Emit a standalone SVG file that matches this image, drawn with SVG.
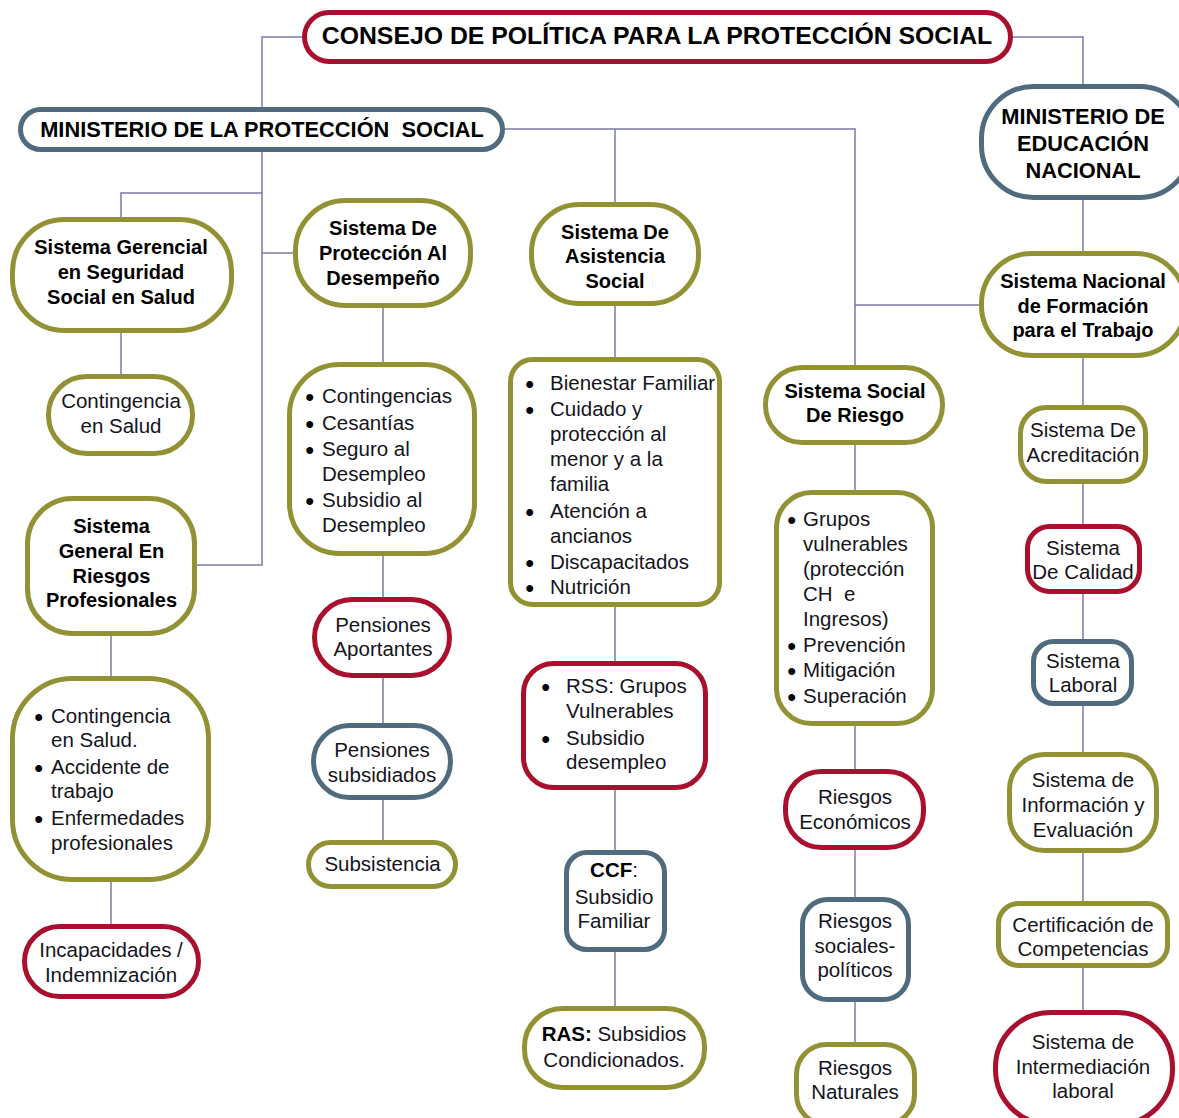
<svg xmlns="http://www.w3.org/2000/svg" width="1179" height="1118" viewBox="0 0 1179 1118">
  <style>
    .box { fill: #ffffff; stroke-width: 5; }
    .red { stroke: #a8102e; }
    .olv { stroke: #929235; }
    .blu { stroke: #4f6b7d; }
    .wire { fill: none; stroke: #7a7aa8; stroke-width: 1.5; }
    text { font-family: "Liberation Sans", Arial, sans-serif; fill: #141420; white-space: pre; }
    .h1 { font-size: 24.8px; font-weight: bold; fill: #000; text-anchor: middle; }
    .h2 { font-size: 21.8px; font-weight: bold; fill: #000; text-anchor: middle; }
    .b { font-size: 20px; font-weight: bold; fill: #000; text-anchor: middle; }
    .t { font-size: 20.5px; text-anchor: middle; }
    .l { font-size: 20.5px; }
    .dot { font-size: 24px; font-weight: bold; fill: #000; }
  </style>

  <!-- connectors -->
  <g id="connectors" class="wire">
    <path d="M302 37 H262 V107"/>
    <path d="M1013 37 H1083 V84"/>
    <path d="M262 152 V565 H197"/>
    <path d="M262 193 H121 V217"/>
    <path d="M262 253 H293"/>
    <path d="M121 333 V374"/>
    <path d="M111 636 V676"/>
    <path d="M111 882 V924"/>
    <path d="M505 129 H855 V365"/>
    <path d="M615 129 V202"/>
    <path d="M855 305 H979"/>
    <path d="M1083 200 V251"/>
    <path d="M1083 358 V405"/>
    <path d="M1083 484 V524"/>
    <path d="M1083 594 V639"/>
    <path d="M1083 706 V752"/>
    <path d="M1083 853 V901"/>
    <path d="M1083 968 V1010"/>
    <path d="M383 308 V362"/>
    <path d="M383 556 V597"/>
    <path d="M383 678 V723"/>
    <path d="M383 800 V840"/>
    <path d="M615 306 V357"/>
    <path d="M615 607 V661"/>
    <path d="M615 790 V850"/>
    <path d="M615 952 V1006"/>
    <path d="M855 445 V490"/>
    <path d="M855 726 V769"/>
    <path d="M855 850 V897"/>
    <path d="M855 1002 V1042"/>
  </g>

  <!-- top level -->
  <g id="consejo">
    <rect class="box red" x="304.5" y="12.5" width="706" height="49" rx="24.5"/>
    <text class="h1" x="657" y="44">CONSEJO DE POLÍTICA PARA LA PROTECCIÓN SOCIAL</text>
  </g>
  <g id="ministerio-proteccion">
    <rect class="box blu" x="20.5" y="109.5" width="482" height="40" rx="20"/>
    <text class="h2" x="262" y="137">MINISTERIO DE LA PROTECCIÓN  SOCIAL</text>
  </g>
  <g id="ministerio-educacion">
    <rect class="box blu" x="981.5" y="86.5" width="210" height="111" rx="52"/>
    <text class="h2" x="1083" y="124">MINISTERIO DE</text>
    <text class="h2" x="1083" y="151">EDUCACIÓN</text>
    <text class="h2" x="1083" y="178">NACIONAL</text>
  </g>

  <!-- Sistema Gerencial branch -->
  <g id="sistema-gerencial">
    <rect class="box olv" x="12.5" y="219.5" width="219" height="111" rx="52"/>
    <text class="b" x="121" y="254">Sistema Gerencial</text>
    <text class="b" x="121" y="279">en Seguridad</text>
    <text class="b" x="121" y="304">Social en Salud</text>
  </g>
  <g id="contingencia-salud">
    <rect class="box olv" x="48.5" y="376.5" width="144" height="77" rx="38"/>
    <text class="t" x="121" y="408">Contingencia</text>
    <text class="t" x="121" y="433">en Salud</text>
  </g>

  <!-- Riesgos Profesionales branch -->
  <g id="sistema-riesgos-profesionales">
    <rect class="box olv" x="27.5" y="498.5" width="167" height="135" rx="45"/>
    <text class="b" x="111.5" y="533">Sistema</text>
    <text class="b" x="111.5" y="558">General En</text>
    <text class="b" x="111.5" y="583">Riesgos</text>
    <text class="b" x="111.5" y="607">Profesionales</text>
  </g>
  <g id="lista-riesgos-profesionales">
    <rect class="box olv" x="12.5" y="678.5" width="196" height="201" rx="60"/>
    <text class="dot" x="34.5" y="725">•</text>
    <text class="l" x="51" y="723">Contingencia</text>
    <text class="l" x="51" y="747">en Salud.</text>
    <text class="dot" x="34.5" y="776">•</text>
    <text class="l" x="51" y="774">Accidente de</text>
    <text class="l" x="51" y="798">trabajo</text>
    <text class="dot" x="34.5" y="827">•</text>
    <text class="l" x="51" y="825">Enfermedades</text>
    <text class="l" x="51" y="850">profesionales</text>
  </g>
  <g id="incapacidades">
    <rect class="box red" x="24.5" y="926.5" width="174" height="70" rx="35"/>
    <text class="t" x="111" y="957">Incapacidades /</text>
    <text class="t" x="111" y="982">Indemnización</text>
  </g>

  <!-- Protección al Desempeño branch -->
  <g id="sistema-proteccion-desempeno">
    <rect class="box olv" x="295.5" y="200.5" width="175" height="105" rx="50"/>
    <text class="b" x="383" y="235">Sistema De</text>
    <text class="b" x="383" y="260">Protección Al</text>
    <text class="b" x="383" y="285">Desempeño</text>
  </g>
  <g id="lista-desempeno">
    <rect class="box olv" x="289.5" y="364.5" width="185" height="189" rx="50"/>
    <text class="dot" x="305.5" y="405">•</text>
    <text class="l" x="322" y="403">Contingencias</text>
    <text class="dot" x="305.5" y="432">•</text>
    <text class="l" x="322" y="430">Cesantías</text>
    <text class="dot" x="305.5" y="458">•</text>
    <text class="l" x="322" y="456">Seguro al</text>
    <text class="l" x="322" y="481">Desempleo</text>
    <text class="dot" x="305.5" y="509">•</text>
    <text class="l" x="322" y="507">Subsidio al</text>
    <text class="l" x="322" y="532">Desempleo</text>
  </g>
  <g id="pensiones-aportantes">
    <rect class="box red" x="314.5" y="599.5" width="135" height="76" rx="38"/>
    <text class="t" x="383" y="632">Pensiones</text>
    <text class="t" x="383" y="656">Aportantes</text>
  </g>
  <g id="pensiones-subsidiados">
    <rect class="box blu" x="313.5" y="725.5" width="137" height="72" rx="36"/>
    <text class="t" x="382" y="757">Pensiones</text>
    <text class="t" x="382" y="782">subsidiados</text>
  </g>
  <g id="subsistencia">
    <rect class="box olv" x="308.5" y="842.5" width="147" height="44" rx="22"/>
    <text class="t" x="382.5" y="871">Subsistencia</text>
  </g>

  <!-- Asistencia Social branch -->
  <g id="sistema-asistencia-social">
    <rect class="box olv" x="531.5" y="204.5" width="167" height="99" rx="48"/>
    <text class="b" x="615" y="239">Sistema De</text>
    <text class="b" x="615" y="263">Asistencia</text>
    <text class="b" x="615" y="288">Social</text>
  </g>
  <g id="lista-asistencia">
    <rect class="box olv" x="510.5" y="359.5" width="209" height="245" rx="22"/>
    <text class="dot" x="525.5" y="392">•</text>
    <text class="l" x="550" y="390">Bienestar Familiar</text>
    <text class="dot" x="525.5" y="418">•</text>
    <text class="l" x="550" y="416">Cuidado y</text>
    <text class="l" x="550" y="441">protección al</text>
    <text class="l" x="550" y="466">menor y a la</text>
    <text class="l" x="550" y="491">familia</text>
    <text class="dot" x="525.5" y="520">•</text>
    <text class="l" x="550" y="518">Atención a</text>
    <text class="l" x="550" y="543">ancianos</text>
    <text class="dot" x="525.5" y="571">•</text>
    <text class="l" x="550" y="569">Discapacitados</text>
    <text class="dot" x="525.5" y="596">•</text>
    <text class="l" x="550" y="594">Nutrición</text>
  </g>
  <g id="rss">
    <rect class="box red" x="523.5" y="663.5" width="182" height="124" rx="30"/>
    <text class="dot" x="541.5" y="695">•</text>
    <text class="l" x="566" y="693">RSS: Grupos</text>
    <text class="l" x="566" y="718">Vulnerables</text>
    <text class="dot" x="541.5" y="747">•</text>
    <text class="l" x="566" y="745">Subsidio</text>
    <text class="l" x="566" y="769">desempleo</text>
  </g>
  <g id="ccf">
    <rect class="box blu" x="566.5" y="852.5" width="98" height="97" rx="20"/>
    <text class="t" x="614" y="877"><tspan font-weight="bold" fill="#000">CCF</tspan>:</text>
    <text class="t" x="614" y="904">Subsidio</text>
    <text class="t" x="614" y="928">Familiar</text>
  </g>
  <g id="ras">
    <rect class="box olv" x="524.5" y="1008.5" width="180" height="79" rx="38"/>
    <text class="t" x="614" y="1041"><tspan font-weight="bold" fill="#000">RAS:</tspan> Subsidios</text>
    <text class="t" x="614" y="1067">Condicionados.</text>
  </g>

  <!-- Sistema Social de Riesgo branch -->
  <g id="sistema-social-riesgo">
    <rect class="box olv" x="765.5" y="367.5" width="177" height="75" rx="37"/>
    <text class="b" x="855" y="398">Sistema Social</text>
    <text class="b" x="855" y="422">De Riesgo</text>
  </g>
  <g id="lista-riesgo">
    <rect class="box olv" x="776.5" y="492.5" width="156" height="231" rx="35"/>
    <text class="dot" x="787.5" y="528">•</text>
    <text class="l" x="803" y="526">Grupos</text>
    <text class="l" x="803" y="551">vulnerables</text>
    <text class="l" x="803" y="576">(protección</text>
    <text class="l" x="803" y="601">CH  e</text>
    <text class="l" x="803" y="626">Ingresos)</text>
    <text class="dot" x="787.5" y="654">•</text>
    <text class="l" x="803" y="652">Prevención</text>
    <text class="dot" x="787.5" y="679">•</text>
    <text class="l" x="803" y="677">Mitigación</text>
    <text class="dot" x="787.5" y="705">•</text>
    <text class="l" x="803" y="703">Superación</text>
  </g>
  <g id="riesgos-economicos">
    <rect class="box red" x="785.5" y="771.5" width="138" height="76" rx="36"/>
    <text class="t" x="855" y="804">Riesgos</text>
    <text class="t" x="855" y="829">Económicos</text>
  </g>
  <g id="riesgos-sociales">
    <rect class="box blu" x="802.5" y="899.5" width="106" height="100" rx="25"/>
    <text class="t" x="855" y="928">Riesgos</text>
    <text class="t" x="855" y="953">sociales-</text>
    <text class="t" x="855" y="977">políticos</text>
  </g>
  <g id="riesgos-naturales">
    <rect class="box olv" x="796.5" y="1044.5" width="118" height="80" rx="30"/>
    <text class="t" x="855" y="1075">Riesgos</text>
    <text class="t" x="855" y="1099">Naturales</text>
  </g>

  <!-- Formación para el Trabajo branch -->
  <g id="sistema-formacion-trabajo">
    <rect class="box olv" x="981.5" y="253.5" width="204" height="102" rx="50"/>
    <text class="b" x="1083" y="288">Sistema Nacional</text>
    <text class="b" x="1083" y="313">de Formación</text>
    <text class="b" x="1083" y="337">para el Trabajo</text>
  </g>
  <g id="acreditacion">
    <rect class="box olv" x="1020.5" y="407.5" width="125" height="74" rx="26"/>
    <text class="t" x="1083" y="437">Sistema De</text>
    <text class="t" x="1083" y="462">Acreditación</text>
  </g>
  <g id="calidad">
    <rect class="box red" x="1027.5" y="526.5" width="112" height="65" rx="22"/>
    <text class="t" x="1083" y="555">Sistema</text>
    <text class="t" x="1083" y="579">De Calidad</text>
  </g>
  <g id="laboral">
    <rect class="box blu" x="1033.5" y="641.5" width="98" height="62" rx="20"/>
    <text class="t" x="1083" y="668">Sistema</text>
    <text class="t" x="1083" y="692">Laboral</text>
  </g>
  <g id="informacion">
    <rect class="box olv" x="1009.5" y="754.5" width="147" height="96" rx="35"/>
    <text class="t" x="1083" y="787">Sistema de</text>
    <text class="t" x="1083" y="812">Información y</text>
    <text class="t" x="1083" y="837">Evaluación</text>
  </g>
  <g id="certificacion">
    <rect class="box olv" x="998.5" y="903.5" width="169" height="62" rx="20"/>
    <text class="t" x="1083" y="932">Certificación de</text>
    <text class="t" x="1083" y="956">Competencias</text>
  </g>
  <g id="intermediacion">
    <rect class="box red" x="995.5" y="1012.5" width="177" height="112" rx="55"/>
    <text class="t" x="1083" y="1049">Sistema de</text>
    <text class="t" x="1083" y="1074">Intermediación</text>
    <text class="t" x="1083" y="1098">laboral</text>
  </g>
</svg>
